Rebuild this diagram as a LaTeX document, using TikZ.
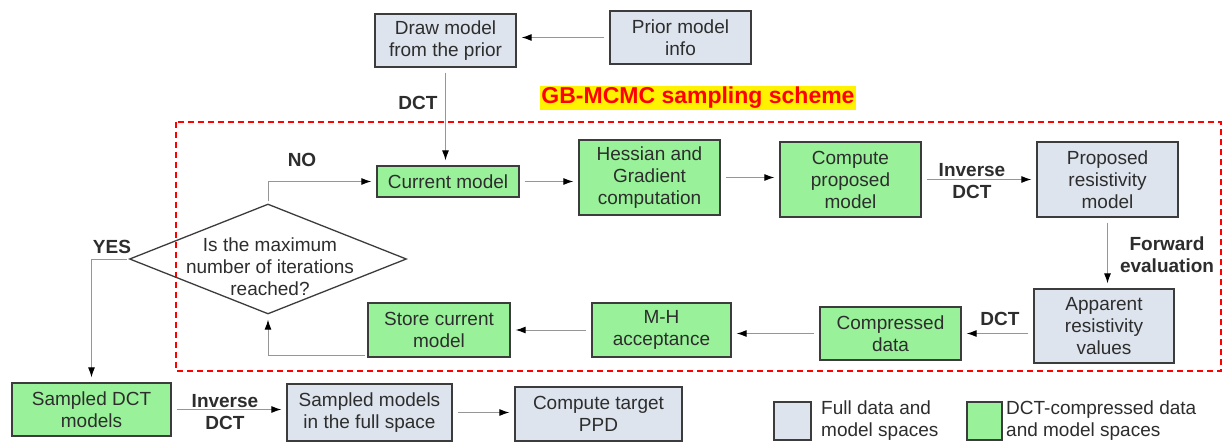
\documentclass[tikz,border=0pt]{standalone}
\usepackage{fontspec}
\setmainfont{Liberation Sans}
\usetikzlibrary{arrows.meta,shapes.geometric,calc}
\definecolor{boxgray}{RGB}{221,228,238}
\definecolor{boxgreen}{RGB}{153,242,153}
\definecolor{boxline}{RGB}{60,60,60}
\definecolor{txt}{RGB}{45,45,45}
\definecolor{arrgray}{RGB}{150,150,150}
\begin{document}
\begin{tikzpicture}[x=1pt,y=-1pt,
  base/.style={draw=boxline, line width=1.3pt, align=center, inner sep=0pt, text=txt, font=\fontsize{19}{22}\selectfont},
  fullbox/.style={base, fill=boxgray},
  dctbox/.style={base, fill=boxgreen},
  arr/.style={draw=arrgray, line width=1pt, -{Latex[length=10pt,width=7pt,color=black]}, shorten >=5pt, shorten <=5pt},
  elbow/.style={arr, shorten <=2pt},
  lbl/.style={font=\bfseries\fontsize{19}{22}\selectfont, text=txt, align=center, inner sep=0pt},
  plain/.style={font=\fontsize{19}{22}\selectfont, text=txt, inner sep=0pt}]
\path[use as bounding box, fill=white] (0,0) rectangle (1224,444);

% dashed frame
\draw[red, line width=2.2pt, dash pattern=on 6pt off 4pt] (176,122) rectangle (1221,371);

% title
\node[fill=yellow, text=red, font=\bfseries\fontsize{23}{25}\selectfont, inner xsep=1pt, inner ysep=0pt, minimum height=24pt] (title) at (698,98) {GB-MCMC sampling scheme};

% boxes
\node[fullbox, minimum width=141pt, minimum height=53pt] (drawm) at (445.5,40.5) {Draw model\\from the prior};
\node[fullbox, minimum width=141pt, minimum height=53pt] (prior) at (680.5,37.5) {Prior model\\info};
\node[dctbox, minimum width=142pt, minimum height=31pt] (cur) at (448,181.5) {Current model};
\node[dctbox, minimum width=141pt, minimum height=75pt] (hess) at (649.5,177.5) {Hessian and\\Gradient\\computation};
\node[dctbox, minimum width=141pt, minimum height=75pt] (comp) at (850.5,179.5) {Compute\\proposed\\model};
\node[fullbox, minimum width=141pt, minimum height=75pt] (prop) at (1107.5,179.5) {Proposed\\resistivity\\model};
\node[fullbox, minimum width=140pt, minimum height=74pt] (app) at (1104,326) {Apparent\\resistivity\\values};
\node[dctbox, minimum width=141pt, minimum height=53pt] (compd) at (890.5,333.5) {Compressed\\data};
\node[dctbox, minimum width=139pt, minimum height=54pt] (mh) at (661.5,330) {M-H\\acceptance};
\node[dctbox, minimum width=142pt, minimum height=54pt] (store) at (439,330) {Store current\\model};
\node[dctbox, minimum width=159pt, minimum height=53pt] (sdct) at (91.5,409.5) {Sampled DCT\\models};
\node[fullbox, minimum width=165pt, minimum height=57pt] (smod) at (369.5,412.5) {Sampled models\\in the full space};
\node[fullbox, minimum width=167pt, minimum height=54pt] (ctgt) at (598.5,414) {Compute target\\PPD};

% decision
\node[diamond, draw=boxline, line width=1.3pt, minimum width=277pt, minimum height=110pt, inner sep=0pt] (dia) at (268,259) {};
\node[plain, align=center] (diatext) at (270,267) {Is the maximum\\number of iterations\\reached?};

% connectors
\draw[arr] (prior.west) -- (prior.west -| drawm.east);
\draw[arr] (drawm.south) -- (drawm.south |- cur.north);
\draw[arr] (cur.east) -- (cur.east -| hess.west);
\draw[arr] (hess.east) -- (hess.east -| comp.west);
\draw[arr] (comp.east) -- (comp.east -| prop.west);
\draw[arr] (prop.south) -- (prop.south |- app.north);
\draw[arr] (compd.east -| app.west) -- (compd.east);
\draw[arr] (compd.west) -- (compd.west -| mh.east);
\draw[arr] (mh.west) -- (mh.west -| store.east);
\draw[elbow] ([yshift=2pt]store.south west) -| (dia.south);
\draw[elbow] (dia.north) |- (cur.west);
\draw[elbow] (dia.west) -| (sdct.north);
\draw[arr] (sdct.east) -- (sdct.east -| smod.west);
\draw[arr] (smod.east) -- (smod.east -| ctgt.west);

% labels
\node[lbl] (ldct1) at (418,103) {DCT};
\node[lbl] (lno) at (302,160) {NO};
\node[lbl] (linv1) at (972,181) {Inverse\\DCT};
\node[lbl] (lfwd) at (1167,255) {Forward\\evaluation};
\node[lbl] (ldct2) at (1000,319) {DCT};
\node[lbl] (lyes) at (112,247) {YES};
\node[lbl] (linv2) at (225,412) {Inverse\\DCT};

% legend
\node[fullbox, minimum width=37pt, minimum height=38pt] (lg1) at (792.5,421) {};
\node[plain, anchor=west, align=left] (lg1t) at (821,421) {Full data and\\model spaces};
\node[dctbox, minimum width=35pt, minimum height=38pt] (lg2) at (984.5,421) {};
\node[plain, anchor=west, align=left] (lg2t) at (1006,421) {DCT-compressed data\\and model spaces};
\end{tikzpicture}
\end{document}
